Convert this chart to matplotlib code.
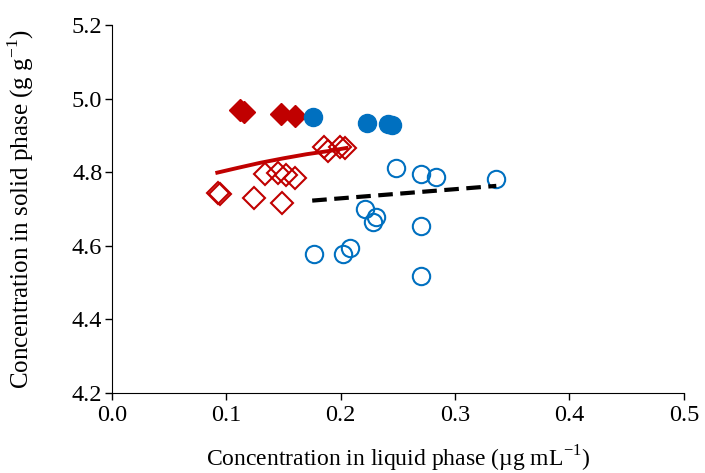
import matplotlib
matplotlib.use("Agg")
import matplotlib.pyplot as plt

plt.rcParams['font.family'] = ['Liberation Serif', 'DejaVu Serif']
plt.rcParams['mathtext.fontset'] = 'custom'
plt.rcParams['mathtext.rm'] = 'Liberation Serif'

# filled diamonds (red)
fd_x = [0.112, 0.115, 0.148, 0.160]
fd_y = [4.968, 4.965, 4.959, 4.953]
# filled circles (blue)
fc_x = [0.176, 0.223, 0.241, 0.245]
fc_y = [4.949, 4.935, 4.930, 4.928]
# open diamonds (red)
od_x = [0.093, 0.094, 0.124, 0.134, 0.145, 0.152, 0.160, 0.149, 0.185, 0.189, 0.199, 0.204]
od_y = [4.743, 4.741, 4.729, 4.794, 4.797, 4.793, 4.784, 4.717, 4.868, 4.859, 4.869, 4.867]
# open circles (blue)
oc_x = [0.248, 0.270, 0.283, 0.336, 0.221, 0.228, 0.231, 0.270, 0.177, 0.202, 0.208, 0.270]
oc_y = [4.811, 4.794, 4.788, 4.782, 4.700, 4.666, 4.679, 4.653, 4.577, 4.577, 4.595, 4.518]
# fitted curves
red_fit_x = [0.092, 0.11, 0.13, 0.15, 0.17, 0.19, 0.205]
red_fit_y = [4.799, 4.812, 4.826, 4.838, 4.849, 4.858, 4.866]
blk_fit_x = [0.175, 0.336]
blk_fit_y = [4.723, 4.763]

red = '#C00000'
blue = '#0070C0'

fig = plt.figure(figsize=(7.05, 4.73), dpi=100)
ax = fig.add_axes([0.159, 0.169, 0.811, 0.778])

ax.plot(od_x, od_y, 'D', ms=11, mfc='none', mec=red, mew=1.5, ls='none')
ax.plot(oc_x, oc_y, 'o', ms=12.5, mfc='none', mec=blue, mew=1.5, ls='none')
ax.plot(red_fit_x, red_fit_y, '-', color=red, lw=2.8)
ax.plot(blk_fit_x, blk_fit_y, '--', color='black', lw=3, dashes=(3.5, 1.8))
ax.plot(fd_x, fd_y, 'D', ms=11.5, color=red, ls='none')
ax.plot(fc_x, fc_y, 'o', ms=13, color=blue, ls='none')

ax.set_xlim(0, 0.5)
ax.set_ylim(4.2, 5.2)
ax.set_xticks([0.0, 0.1, 0.2, 0.3, 0.4, 0.5])
ax.set_yticks([4.2, 4.4, 4.6, 4.8, 5.0, 5.2])
ax.xaxis.set_major_formatter(matplotlib.ticker.FormatStrFormatter('%.1f'))
ax.yaxis.set_major_formatter(matplotlib.ticker.FormatStrFormatter('%.1f'))
for s in ['top', 'right']:
    ax.spines[s].set_visible(False)
ax.tick_params(direction='out', length=5, width=1, labelsize=17.5)
ax.tick_params(axis='y', pad=2)
ax.set_xlabel('Concentration in liquid phase (\u00b5g mL$^{-1}$)', fontsize=17, labelpad=13)
ax.set_ylabel('Concentration in solid phase (g g$^{-1}$)', fontsize=18, labelpad=26)

fig.savefig('out.png', dpi=100)
